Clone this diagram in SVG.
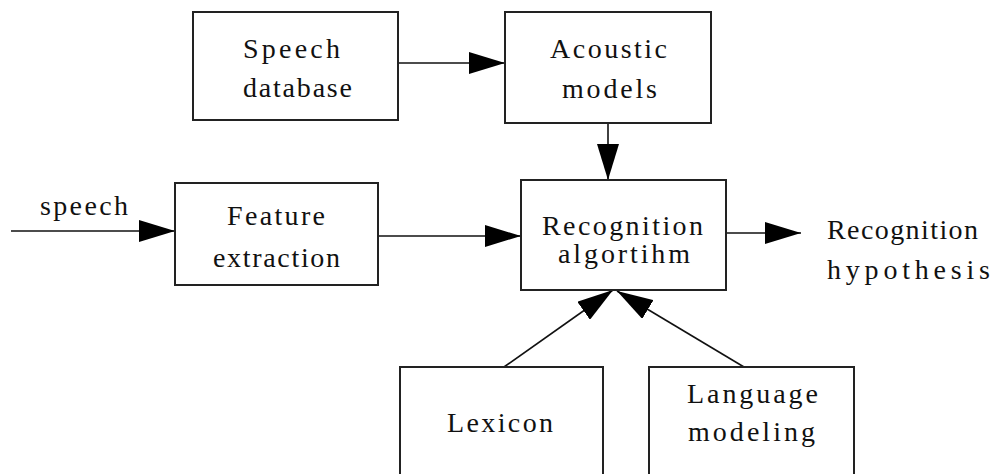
<svg xmlns="http://www.w3.org/2000/svg" width="993" height="474" viewBox="0 0 993 474">
<style>
.box{fill:#fff;stroke:#222;stroke-width:2}
.t{font-family:"Liberation Serif","DejaVu Serif",serif;font-size:28px;fill:#111}
.c{fill:none;stroke:#111;stroke-width:1.6}
</style>
<defs>
<marker id="ah" markerUnits="userSpaceOnUse" markerWidth="36" markerHeight="22" refX="36" refY="11" orient="auto">
<path d="M0,0 L36,11 L0,22 z" fill="#000"/>
</marker>
</defs>
<rect width="993" height="474" fill="#fff"/>
<g id="connectors">
<line class="c" x1="399" y1="63" x2="505" y2="63" marker-end="url(#ah)"/>
<line class="c" x1="608" y1="123" x2="608" y2="180" marker-end="url(#ah)"/>
<line class="c" x1="11" y1="231" x2="175" y2="231" marker-end="url(#ah)"/>
<line class="c" x1="378" y1="236" x2="521" y2="236" marker-end="url(#ah)"/>
<line class="c" x1="726" y1="233" x2="801" y2="233" marker-end="url(#ah)"/>
<line class="c" x1="504" y1="367" x2="613" y2="290" marker-end="url(#ah)"/>
<line class="c" x1="744" y1="367" x2="617" y2="291" marker-end="url(#ah)"/>
<text class="t" x="40" y="215" textLength="88" lengthAdjust="spacing">speech</text>
</g>
<g id="speech-database">
<rect class="box" x="193" y="12" width="205" height="108"/>
<text class="t" x="243" y="58" textLength="97" lengthAdjust="spacing">Speech</text>
<text class="t" x="243" y="97" textLength="109" lengthAdjust="spacing">database</text>
</g>
<g id="acoustic-models">
<rect class="box" x="505" y="12" width="206" height="111"/>
<text class="t" x="550" y="58" textLength="117" lengthAdjust="spacing">Acoustic</text>
<text class="t" x="562" y="98" textLength="95" lengthAdjust="spacing">models</text>
</g>
<g id="feature-extraction">
<rect class="box" x="175" y="183" width="203" height="102"/>
<text class="t" x="227" y="225" textLength="98" lengthAdjust="spacing">Feature</text>
<text class="t" x="213" y="267" textLength="127" lengthAdjust="spacing">extraction</text>
</g>
<g id="recognition-algorithm">
<rect class="box" x="521" y="180" width="205" height="110"/>
<text class="t" x="542" y="235" textLength="161" lengthAdjust="spacing">Recognition</text>
<text class="t" x="558" y="263" textLength="132" lengthAdjust="spacing">algortihm</text>
</g>
<g id="recognition-hypothesis">
<text class="t" x="827" y="239" textLength="151" lengthAdjust="spacing">Recognition</text>
<text class="t" x="827" y="279" textLength="163" lengthAdjust="spacing">hypothesis</text>
</g>
<g id="lexicon">
<rect class="box" x="400" y="367" width="203" height="120"/>
<text class="t" x="447" y="432" textLength="106" lengthAdjust="spacing">Lexicon</text>
</g>
<g id="language-modeling">
<rect class="box" x="649" y="367" width="205" height="120"/>
<text class="t" x="687" y="403" textLength="131" lengthAdjust="spacing">Language</text>
<text class="t" x="688" y="441" textLength="127" lengthAdjust="spacing">modeling</text>
</g>
</svg>
